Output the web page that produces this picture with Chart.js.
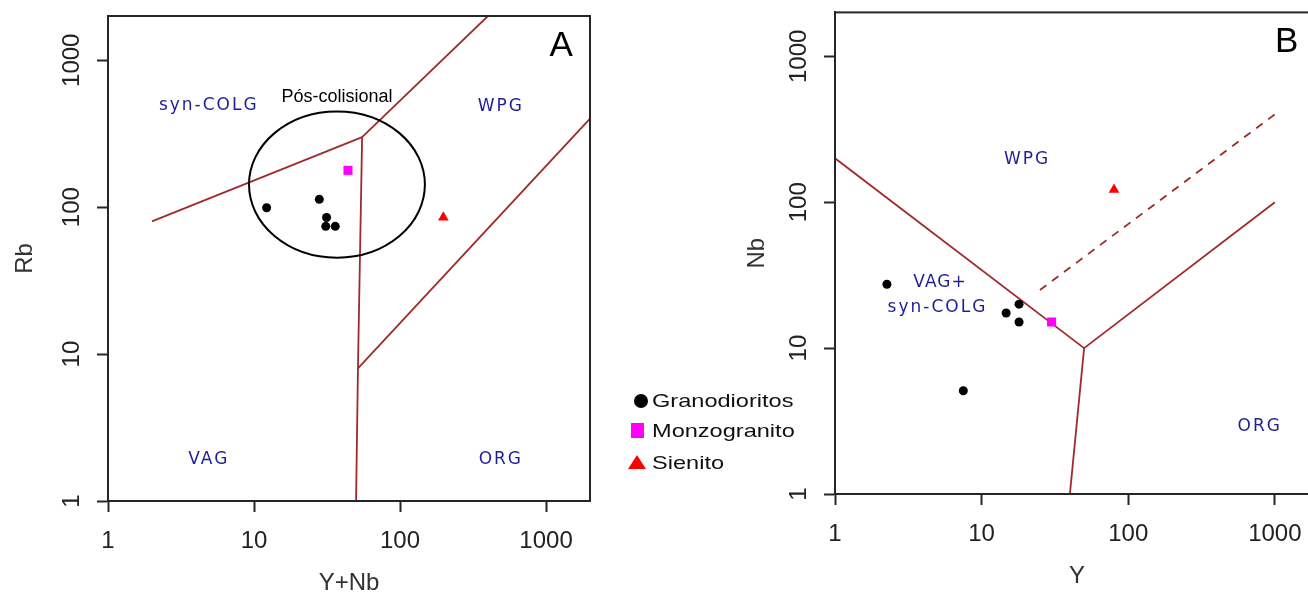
<!DOCTYPE html>
<html>
<head>
<meta charset="utf-8">
<script src="https://cdn.jsdelivr.net/npm/chart.js@4"></script>
<style>
    html, body { margin: 0; padding: 0; background: #fff; overflow: hidden; }
    body { width: 1308px; height: 598px; position: relative; }
    canvas { position: absolute; top: 0; }
    #chartA { left: 0; }
    #chartB { left: 700px; }
    .lbl {
        position: absolute; left: 652px; font: 19px 'Liberation Sans', Arial, sans-serif;
        line-height: 19px; color: #111; transform: scaleX(1.24); transform-origin: left top;
        white-space: nowrap; z-index: 2;
    }
    .mk { position: absolute; z-index: 2; }
    .dot { left: 634px; top: 394px; width: 14px; height: 14px; border-radius: 50%; background: #000; }
    .sq { left: 631px; top: 423px; width: 13px; height: 15px; background: #ff00ff; }
    .tri { left: 628px; top: 455px; width: 0; height: 0; border-left: 9px solid transparent; border-right: 9px solid transparent; border-bottom: 14px solid #ff0000; }
</style>
</head>
<body>
<canvas id="chartA" width="610" height="598"></canvas>
<canvas id="chartB" width="640" height="598"></canvas>

<span class="mk dot"></span><span class="lbl" style="top:391px">Granodioritos</span>
<span class="mk sq"></span><span class="lbl" style="top:421px">Monzogranito</span>
<span class="mk tri"></span><span class="lbl" style="top:453px">Sienito</span>

<script>
// --- DATA ---
const tickVals = [1, 10, 100, 1000];
const seriesNames = ['Granodioritos', 'Monzogranito', 'Sienito'];

// Diagram A: Rb vs Y+Nb
const granoYNb = [12.2, 28, 31.4, 31, 36];
const granoRb = [99, 113, 85, 74, 74];
const monzoYNb = [44];
const monzoRb = [178];
const sienYNb = [198];
const sienRb = [85];

// Diagram B: Nb vs Y
const granoY = [2.26, 18, 14.7, 18, 7.5];
const granoNb = [27.4, 20, 17.4, 15.1, 5.1];
const monzoY = [30];
const monzoNb = [15.1];
const sienY = [80];
const sienNb = [122];

// Pearce et al. (1984) field boundaries, [x, y]
const lineA_colg = [[2, 80], [55, 300]];
const lineA_wpg = [[55, 300], [400, 2000]];
const lineA_vag = [[55, 300], [51.5, 8], [50, 1]];
const lineA_org = [[51.5, 8], [2000, 400]];
const lineB_wpg = [[1, 200], [50, 10]];
const lineB_org = [[50, 10], [1000, 100]];
const lineB_vag = [[50, 10], [40, 1]];
const lineB_dash = [[25, 25], [1000, 400]];

const BROWN = '#a02a2a';
const BLUE = '#1f1f95';
const FONT = "'Liberation Sans', Arial, sans-serif";

const pts = (xs, ys) => xs.map((x, i) => ({ x: x, y: ys[i] }));
const seg = arr => arr.map(p => ({ x: p[0], y: p[1] }));

function lineSet(arr, dashed) {
    return {
        data: seg(arr), showLine: true, borderColor: BROWN, borderWidth: 1.8,
        borderDash: dashed ? [8, 7] : [], pointRadius: 0, order: 5
    };
}

function pointSets(gx, gy, mx, my, sx, sy) {
    return [
        { label: seriesNames[0], data: pts(gx, gy), pointStyle: 'circle', pointRadius: 4.5, backgroundColor: '#000', borderColor: '#000', borderWidth: 0, order: 0 },
        { label: seriesNames[1], data: pts(mx, my), pointStyle: 'rect', pointRadius: 6.4, backgroundColor: '#ff00ff', borderColor: '#ff00ff', borderWidth: 0, order: 0 },
        { label: seriesNames[2], data: pts(sx, sy), pointStyle: 'triangle', pointRadius: 6.2, backgroundColor: '#ff0000', borderColor: '#ff0000', borderWidth: 0, order: 0 }
    ];
}

// frame, ellipse and field names
const decor = {
    id: 'decor',
    afterDatasetsDraw(chart, args, opts) {
        const { ctx, chartArea: a, scales } = chart;
        const sx = v => scales.x.getPixelForValue(v);
        const sy = v => scales.y.getPixelForValue(v);
        ctx.save();
        ctx.strokeStyle = '#262626';
        ctx.lineWidth = 2;
        ctx.strokeRect(a.left, a.top, a.right - a.left, a.bottom - a.top);

        if (opts.ellipse) {
            const e = opts.ellipse;
            const x0 = sx(e[0]), x1 = sx(e[1]), y0 = sy(e[3]), y1 = sy(e[2]);
            ctx.beginPath();
            ctx.ellipse((x0 + x1) / 2, (y0 + y1) / 2, (x1 - x0) / 2, (y1 - y0) / 2, 0, 0, Math.PI * 2);
            ctx.strokeStyle = '#000';
            ctx.lineWidth = 2;
            ctx.stroke();
        }

        (opts.notes || []).forEach(n => {
            ctx.font = n.font;
            ctx.fillStyle = n.color;
            ctx.letterSpacing = n.spacing || '0px';
            ctx.textAlign = 'center';
            ctx.textBaseline = 'middle';
            ctx.fillText(n.text, sx(n.x), sy(n.y));
        });
        ctx.restore();
    }
};

function logAxis(opts) {
    return {
        type: 'logarithmic', min: 1, max: 2000, position: opts.position,
        afterBuildTicks: s => { s.ticks = tickVals.map(v => ({ value: v })); },
        afterFit: opts.fit,
        ticks: Object.assign({
            callback: v => String(v), autoSkip: false,
            font: { family: FONT, size: 24 }, color: '#222'
        }, opts.ticks),
        grid: { drawOnChartArea: false, tickLength: 11, tickWidth: 2, tickColor: '#262626' },
        border: { color: '#262626', width: 2 },
        title: { display: true, text: opts.title, color: '#333', font: { family: FONT, size: 24 }, padding: opts.titlePad }
    };
}

const fieldFont = "17px 'DejaVu Sans', sans-serif";

new Chart(document.getElementById('chartA'), {
    type: 'scatter',
    data: {
        datasets: pointSets(granoYNb, granoRb, monzoYNb, monzoRb, sienYNb, sienRb).concat([
            lineSet(lineA_colg), lineSet(lineA_wpg), lineSet(lineA_vag), lineSet(lineA_org)
        ])
    },
    options: {
        responsive: false, animation: false, devicePixelRatio: 1,
        layout: { padding: { top: 16, right: 20, left: 0, bottom: 0 } },
        plugins: {
            legend: { display: false }, tooltip: { enabled: false },
            decor: {
                ellipse: [9.24, 148, 45.3, 448],
                notes: [
                    { text: 'syn-COLG', x: 4.9, y: 490, color: BLUE, font: fieldFont, spacing: '2px' },
                    { text: 'WPG', x: 490, y: 485, color: BLUE, font: fieldFont, spacing: '2px' },
                    { text: 'VAG', x: 4.9, y: 1.9, color: BLUE, font: fieldFont, spacing: '2px' },
                    { text: 'ORG', x: 490, y: 1.9, color: BLUE, font: fieldFont, spacing: '2px' },
                    { text: 'Pós-colisional', x: 37, y: 559, color: '#000', font: "18px " + FONT },
                    { text: 'A', x: 1267, y: 1244, color: '#000', font: "35px " + FONT }
                ]
            }
        },
        scales: {
            x: logAxis({ position: 'bottom', title: 'Y+Nb', titlePad: { top: 0, bottom: 0 },
                fit: s => { s.height = 97; }, ticks: { padding: 15, maxRotation: 0, minRotation: 0 } }),
            y: logAxis({ position: 'left', title: 'Rb', titlePad: { top: 11, bottom: 0 },
                fit: s => { s.width = 108; }, ticks: { padding: -2, minRotation: 90, maxRotation: 90, crossAlign: 'center' } })
        }
    },
    plugins: [decor]
});

new Chart(document.getElementById('chartB'), {
    type: 'scatter',
    data: {
        datasets: pointSets(granoY, granoNb, monzoY, monzoNb, sienY, sienNb).concat([
            lineSet(lineB_wpg), lineSet(lineB_org), lineSet(lineB_vag), lineSet(lineB_dash, true)
        ])
    },
    options: {
        responsive: false, animation: false, devicePixelRatio: 1,
        layout: { padding: { top: 10, right: 21, left: 0, bottom: 0 } },
        plugins: {
            legend: { display: false }, tooltip: { enabled: false },
            decor: {
                notes: [
                    { text: 'WPG', x: 20.4, y: 195, color: BLUE, font: fieldFont, spacing: '2px' },
                    { text: 'VAG+', x: 5.2, y: 28.3, color: BLUE, font: fieldFont, spacing: '1px' },
                    { text: 'syn-COLG', x: 5.0, y: 19.1, color: BLUE, font: fieldFont, spacing: '2px' },
                    { text: 'ORG', x: 789, y: 2.91, color: BLUE, font: fieldFont, spacing: '2px' },
                    { text: 'B', x: 1205, y: 1244, color: '#000', font: "35px " + FONT }
                ]
            }
        },
        scales: {
            x: logAxis({ position: 'bottom', title: 'Y', titlePad: { top: 0, bottom: 7 },
                fit: s => { s.height = 104; }, ticks: { padding: 15, maxRotation: 0, minRotation: 0 } }),
            y: logAxis({ position: 'left', title: 'Nb', titlePad: { top: 43, bottom: 0 },
                fit: s => { s.width = 135; }, ticks: { padding: -2, minRotation: 90, maxRotation: 90, crossAlign: 'center' } })
        }
    },
    plugins: [decor]
});
</script>
</body>
</html>
